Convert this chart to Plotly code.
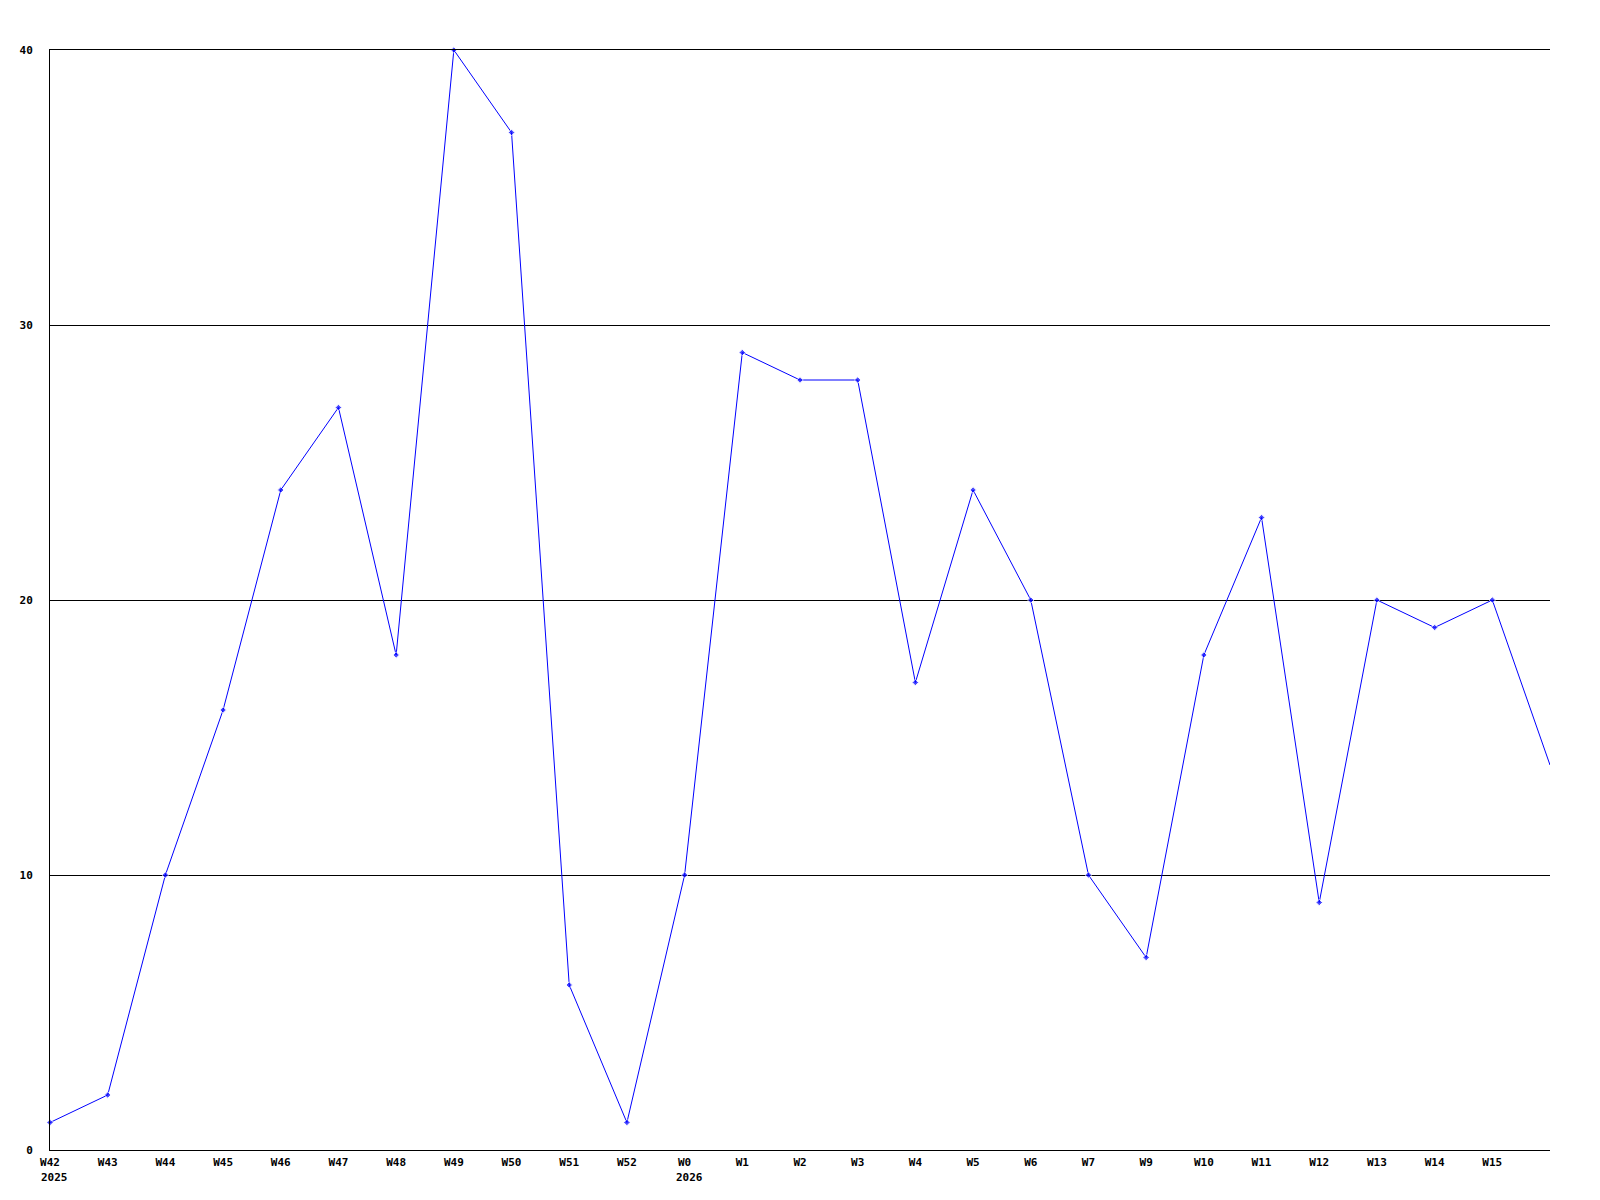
import plotly.graph_objects as go

week_labels = ["W42", "W43", "W44", "W45", "W46", "W47", "W48", "W49", "W50", "W51", "W52",
               "W0", "W1", "W2", "W3", "W4", "W5", "W6", "W7", "W9", "W10", "W11", "W12",
               "W13", "W14", "W15"]
values = [1, 2, 10, 16, 24, 27, 18, 40, 37, 6, 1,
          10, 29, 28, 28, 17, 24, 20, 10, 7, 18, 23, 9,
          20, 19, 20, 14]
year_labels = {"W42": "2025", "W0": "2026"}
y_ticks = [0, 10, 20, 30, 40]

x = list(range(len(values)))
marker_sizes = [5] * (len(values) - 1) + [0]

fig = go.Figure()
fig.add_trace(go.Scatter(
    x=x, y=values, mode="lines+markers",
    line=dict(color="#0000FF", width=1),
    marker=dict(color="#0000FF", symbol="diamond", size=marker_sizes),
    showlegend=False, cliponaxis=False,
))

font = dict(family="DejaVu Sans Mono", size=11, color="black", weight="bold")

for lab, yr in year_labels.items():
    i = week_labels.index(lab)
    fig.add_annotation(x=i, y=0, xref="x", yref="y", text=yr, showarrow=False,
                       xanchor="left", yanchor="top", xshift=-11, yshift=-19,
                       font=font)

fig.update_layout(
    width=1600, height=1200,
    margin=dict(l=50, r=50, t=50, b=50),
    paper_bgcolor="white", plot_bgcolor="white",
    font=font,
    xaxis=dict(range=[0, len(values) - 1], tickvals=list(range(len(week_labels))),
               ticktext=week_labels, showgrid=False, zeroline=False,
               showline=True, mirror=True, linecolor="black", linewidth=1, ticks="",
               ticklabelstandoff=2, tickfont=font, fixedrange=True),
    yaxis=dict(range=[0, 40], tickvals=y_ticks, showgrid=True, gridcolor="black",
               gridwidth=1, zeroline=False, showline=True, linecolor="black",
               linewidth=1, ticks="", ticklabelstandoff=14, tickfont=font),
)

fig.write_html("out.html", config={"displayModeBar": False},
               post_script="document.body.style.margin='0';")
